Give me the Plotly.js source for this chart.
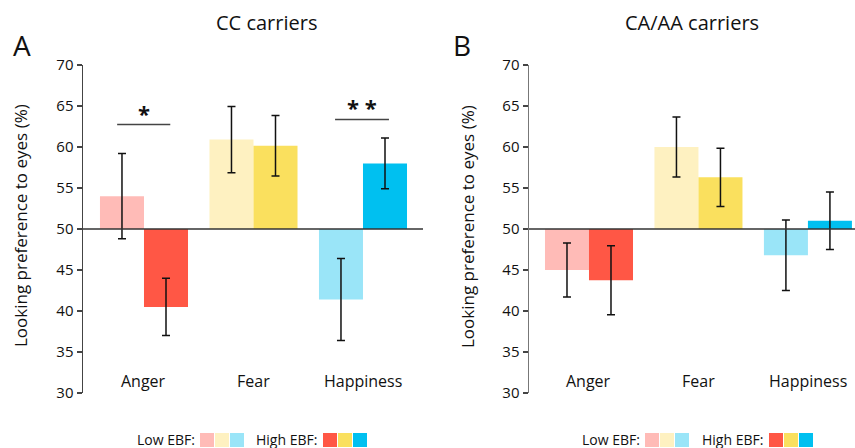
<!DOCTYPE html>
<html>
<head>
<meta charset="utf-8">
<script src="https://cdn.plot.ly/plotly-3.0.1.min.js"></script>
<style>html,body{margin:0;padding:0;background:#fff;}#chart{width:855px;height:448px;}</style>
</head>
<body>
<div id="chart"></div>
<script>
const categories = ['Anger', 'Fear', 'Happiness'];
const ccLow = [54.0, 60.9, 41.4];
const ccLowErr = [5.2, 4.05, 5.0];
const ccHigh = [40.5, 60.15, 58.0];
const ccHighErr = [3.5, 3.7, 3.1];
const caLow = [45.0, 60.0, 46.8];
const caLowErr = [3.3, 3.65, 4.3];
const caHigh = [43.75, 56.3, 51.0];
const caHighErr = [4.2, 3.55, 3.5];
const lowColors = ['#ffbbb7', '#fef1c1', '#9ae5f8'];
const highColors = ['#ff5745', '#fae05e', '#00c0f0'];
const baseline = 50;
const yTicks = [30, 35, 40, 45, 50, 55, 60, 65, 70];
const panelTitles = ['CC carriers', 'CA/AA carriers'];
const panelLetters = ['A', 'B'];
const yTitle = 'Looking preference to eyes (%)';
const legendLow = 'Low EBF:';
const legendHigh = 'High EBF:';

const FONT = '"Open Sans", "Noto Sans", sans-serif';
const W = 855, H = 448;
const xs = categories.map((c, i) => i);

function barTrace(vals, errs, colors, xa, ya, offset) {
  return {
    type: 'bar', x: xs, y: vals.map(v => v - baseline), base: baseline,
    xaxis: xa, yaxis: ya, width: 0.402, offset: offset,
    marker: {color: colors, line: {width: 0}},
    error_y: {type: 'data', array: errs, visible: true, color: '#111', thickness: 1.5, width: 4},
    hoverinfo: 'skip', showlegend: false
  };
}

const data = [
  barTrace(ccLow, ccLowErr, lowColors, 'x', 'y', -0.402),
  barTrace(ccHigh, ccHighErr, highColors, 'x', 'y', 0),
  barTrace(caLow, caLowErr, lowColors, 'x2', 'y2', -0.402),
  barTrace(caHigh, caHighErr, highColors, 'x2', 'y2', 0)
];

const yDom = [1 - 393 / H, 1 - 65 / H];
const yAxisCommon = {
  range: [30, 70], tickvals: yTicks, ticktext: yTicks.map(String),
  showgrid: false, zeroline: false, showline: true, linecolor: '#444', linewidth: 1.5,
  ticks: 'outside', ticklen: 5, tickcolor: '#444', tickwidth: 1.5,
  tickfont: {family: FONT, size: 15, color: '#111'}, domain: yDom, fixedrange: true
};
const xAxisCommon = {visible: false, showgrid: false, zeroline: false, fixedrange: true};

const annotations = [];
const shapes = [];

// category labels
['x', 'x2'].forEach((xa, p) => {
  const ya = p === 0 ? 'y' : 'y2';
  categories.forEach((c, i) => {
    annotations.push({x: i, y: 31.5, xref: xa, yref: ya, text: c, showarrow: false,
      font: {family: FONT, size: 16, color: '#111'}, xanchor: 'center', yanchor: 'middle'});
  });
  shapes.push({type: 'line', xref: xa + ' domain', yref: ya, x0: 0, x1: 1, y0: baseline, y1: baseline,
    line: {color: '#333', width: 1.5}});
});

// panel titles & letters
const titleX = [266, 692];
const letterX = [22, 462];
const yTitleX = [20, 467];
for (let p = 0; p < 2; p++) {
  annotations.push({x: titleX[p] / W, y: 1 - 22 / H, xref: 'paper', yref: 'paper', text: panelTitles[p],
    showarrow: false, font: {family: FONT, size: 20, color: '#111'}, xanchor: 'center', yanchor: 'middle'});
  annotations.push({x: letterX[p] / W, y: 1 - 45 / H, xref: 'paper', yref: 'paper', text: panelLetters[p],
    showarrow: false, font: {family: FONT, size: 28, color: '#111'}, xanchor: 'center', yanchor: 'middle'});
  annotations.push({x: yTitleX[p] / W, y: 1 - 226 / H, xref: 'paper', yref: 'paper', text: yTitle, textangle: -90,
    showarrow: false, font: {family: FONT, size: 17, color: '#111'}, xanchor: 'center', yanchor: 'middle'});
}

// significance markers (left panel)
const sig = [{x0: -0.245, x1: 0.24, y: 62.74, label: '*', ty: 64.2}, {x0: 1.745, x1: 2.237, y: 63.35, label: '* *', ty: 64.85}];
sig.forEach(s => {
  shapes.push({type: 'line', xref: 'x', yref: 'y', x0: s.x0, x1: s.x1, y0: s.y, y1: s.y, line: {color: '#444', width: 1.5}});
  annotations.push({x: (s.x0 + s.x1) / 2, y: s.ty, xref: 'x', yref: 'y', text: '<b>' + s.label + '</b>', showarrow: false,
    font: {family: FONT, size: 22, color: '#111'}, xanchor: 'center', yanchor: 'middle'});
});

// legends
const legendPos = [
  {lowTextR: 197, lowSq: 200, highTextR: 319, highSq: 323},
  {lowTextR: 642, lowSq: 645, highTextR: 765, highSq: 769}
];
legendPos.forEach(L => {
  annotations.push({x: L.lowTextR / W, y: 1 - 439 / H, xref: 'paper', yref: 'paper', text: legendLow, showarrow: false,
    font: {family: FONT, size: 14, color: '#111'}, xanchor: 'right', yanchor: 'middle'});
  annotations.push({x: L.highTextR / W, y: 1 - 439 / H, xref: 'paper', yref: 'paper', text: legendHigh, showarrow: false,
    font: {family: FONT, size: 14, color: '#111'}, xanchor: 'right', yanchor: 'middle'});
  lowColors.forEach((c, i) => {
    shapes.push({type: 'rect', xref: 'paper', yref: 'paper', x0: (L.lowSq + i * 15) / W, x1: (L.lowSq + i * 15 + 14) / W,
      y0: 1 - 447 / H, y1: 1 - 433 / H, fillcolor: c, line: {width: 0}});
  });
  highColors.forEach((c, i) => {
    shapes.push({type: 'rect', xref: 'paper', yref: 'paper', x0: (L.highSq + i * 15) / W, x1: (L.highSq + i * 15 + 14) / W,
      y0: 1 - 447 / H, y1: 1 - 433 / H, fillcolor: c, line: {width: 0}});
  });
});

const layout = {
  width: W, height: H, margin: {l: 0, r: 0, t: 0, b: 0},
  paper_bgcolor: '#fff', plot_bgcolor: 'rgba(0,0,0,0)', showlegend: false,
  barmode: 'overlay',
  xaxis: Object.assign({}, xAxisCommon, {domain: [83 / W, 423 / W], range: [-0.557, 2.548]}),
  xaxis2: Object.assign({}, xAxisCommon, {domain: [529 / W, 1], range: [-0.548, 2.43]}),
  yaxis: Object.assign({}, yAxisCommon, {anchor: 'x'}),
  yaxis2: Object.assign({}, yAxisCommon, {anchor: 'x2', linecolor: '#777'}),
  annotations: annotations, shapes: shapes
};

Plotly.newPlot('chart', data, layout, {staticPlot: true, displayModeBar: false});
</script>
</body>
</html>
